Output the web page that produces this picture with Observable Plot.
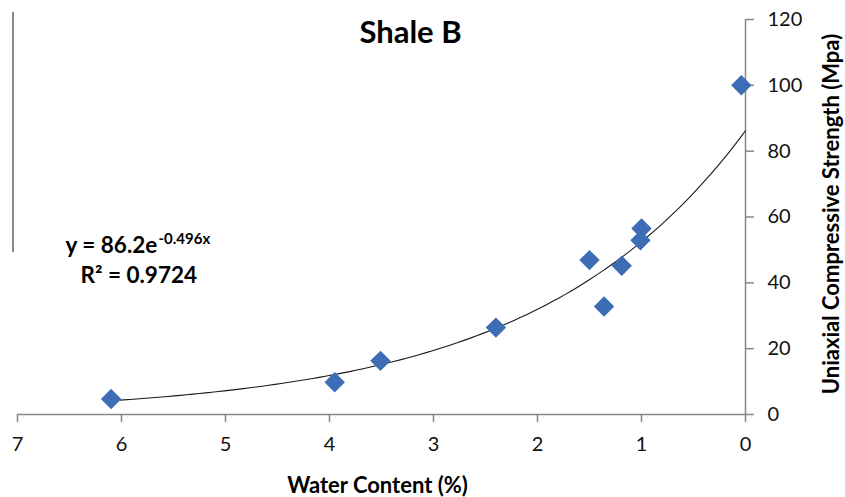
<!DOCTYPE html>
<html>
<head>
<meta charset="utf-8">
<script src="https://cdn.jsdelivr.net/npm/d3@7"></script>
<script src="https://cdn.jsdelivr.net/npm/@observablehq/plot@0.6"></script>
<style>
  html, body { margin: 0; padding: 0; background: #fff; }
  #chart { position: relative; width: 845px; height: 497px; }
  #chart .edge { position: absolute; left: 12px; top: 12px; height: 240px; border-left: 2px solid #8a8a8a; }
  svg { display: block; }
</style>
</head>
<body>
<div id="chart"><div class="edge"></div></div>
<script>
// Shale B: water content (%) vs uniaxial compressive strength (MPa)
const waterContent = [6.1, 3.95, 3.51, 2.4, 1.5, 1.36, 1.19, 1.0, 1.01, 0.04];
const ucsValues    = [4.7, 9.8, 16.3, 26.4, 46.9, 32.8, 45.2, 56.5, 52.9, 100];

// Exponential trendline reported on the chart: y = 86.2 e^(-0.496 x)
const fitA = 86.2;
const fitB = -0.496;
const rSquared = 0.9724;

const xTicks = [7, 6, 5, 4, 3, 2, 1, 0];
const yTicks = [0, 20, 40, 60, 80, 100, 120];

const points = waterContent.map((w, i) => ({w, s: ucsValues[i]}));
const xMin = d3.min(waterContent);
const xMax = d3.max(waterContent);
const trend = d3.range(0, 101).map(i => {
  const w = xMin + (xMax - xMin) * i / 100;
  return {w, s: fitA * Math.exp(fitB * w)};
});
// extend the fitted curve to zero water content
trend.unshift({w: 0, s: fitA});

const font = "Lato, 'Open Sans', sans-serif";
const axisGray = "#868686";

const chart = Plot.plot({
  width: 845,
  height: 497,
  marginLeft: 17,
  marginRight: 100,
  marginTop: 19,
  marginBottom: 83,
  style: {fontFamily: font, background: "#fff"},
  x: {domain: [7, 0]},
  y: {domain: [0, 120]},
  marks: [
    Plot.ruleY([0], {stroke: axisGray, strokeWidth: 1.5}),
    Plot.ruleX([0], {stroke: axisGray, strokeWidth: 1.5}),
    Plot.axisX({
      ticks: xTicks, tickFormat: d3.format("d"), tickSize: 8, tickPadding: 14,
      stroke: axisGray, strokeWidth: 1.5, fill: "#111", fontSize: 20, label: null
    }),
    Plot.axisY({
      anchor: "right", ticks: yTicks, tickFormat: d3.format("d"), tickSize: 8, tickPadding: 14,
      stroke: axisGray, strokeWidth: 1.5, fill: "#111", fontSize: 20, label: null
    }),
    Plot.line(trend, {x: "w", y: "s", stroke: "#1a1a1a", strokeWidth: 1.1, curve: "linear"}),
    Plot.dot(points, {x: "w", y: "s", symbol: "diamond2", r: 9.2, fill: "#3d6db5", stroke: "none"}),
    // title
    Plot.text(["Shale B"], {
      frameAnchor: "top-left", dx: 393, dy: 1, fontSize: 31, fontWeight: "bold",
      fill: "#000", textAnchor: "middle", lineAnchor: "top"
    }),
    // trendline equation
    Plot.text([`y = ${fitA}e`], {
      frameAnchor: "top-left", dx: 48, dy: 233, fontSize: 22.5, fontWeight: "bold",
      fill: "#000", textAnchor: "start", lineAnchor: "bottom"
    }),
    Plot.text([`${fitB}x`], {
      frameAnchor: "top-left", dx: 141, dy: 224, fontSize: 15, fontWeight: "bold",
      fill: "#000", textAnchor: "start", lineAnchor: "bottom"
    }),
    Plot.text([`R² = ${rSquared}`], {
      frameAnchor: "top-left", dx: 63, dy: 263, fontSize: 22.5, fontWeight: "bold",
      fill: "#000", textAnchor: "start", lineAnchor: "bottom"
    }),
    // axis titles
    Plot.text(["Water Content (%)"], {
      frameAnchor: "bottom", dx: -4, dy: 78, fontSize: 22, fontWeight: "bold",
      fill: "#000", textAnchor: "middle", lineAnchor: "bottom"
    }),
    Plot.text(["Uniaxial Compressive Strength (Mpa)"], {
      frameAnchor: "right", dx: 86, dy: -3, rotate: -90, fontSize: 22, fontWeight: "bold",
      fill: "#000", textAnchor: "middle", lineAnchor: "middle"
    })
  ]
});

document.getElementById("chart").appendChild(chart);
</script>
</body>
</html>
